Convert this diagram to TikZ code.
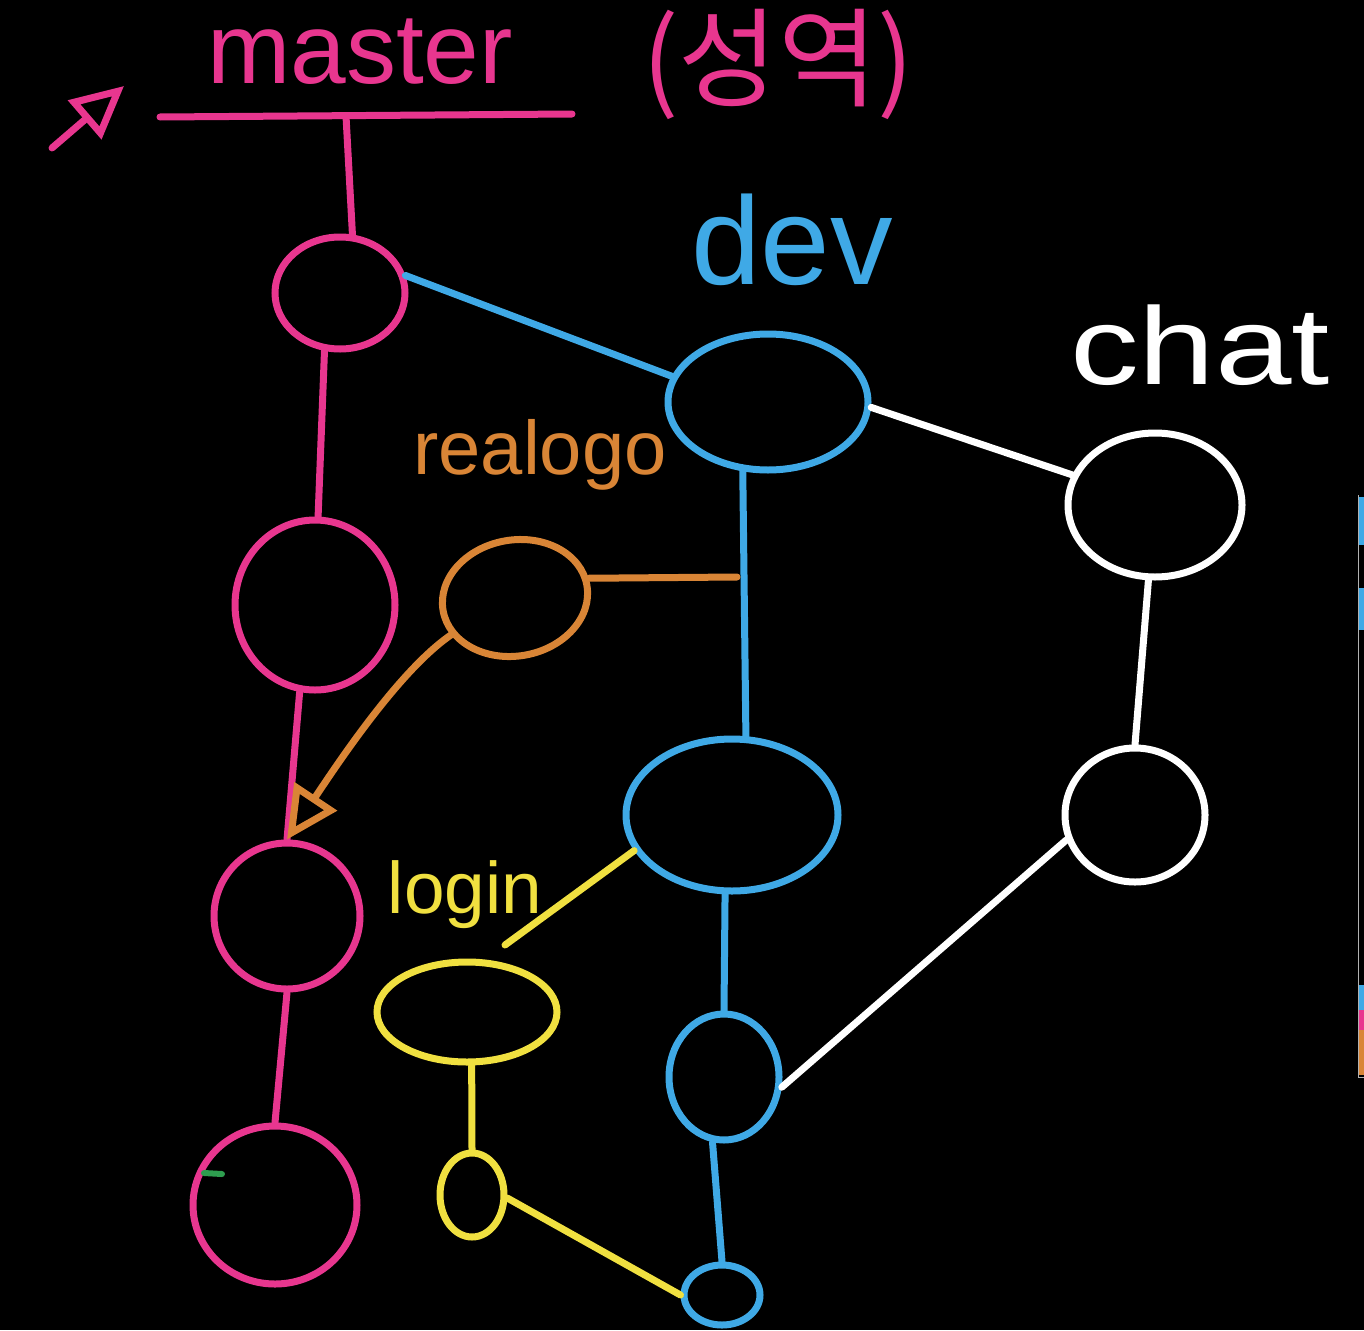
\documentclass[tikz,border=0pt]{standalone}
\usepackage{fontspec}
\setmainfont{Liberation Sans}
\newfontfamily\krfont{Noto Sans CJK KR}
\usetikzlibrary{shapes.geometric,arrows.meta}
\definecolor{pinkc}{HTML}{E8368F}
\definecolor{bluec}{HTML}{3FA9E6}
\definecolor{orangec}{HTML}{D98536}
\definecolor{yellowc}{HTML}{F0E040}
\definecolor{greenc}{HTML}{2E9E4F}
\tikzset{
  commit/.style={ellipse, draw, line width=7pt, inner sep=0pt},
  edge/.style={line width=7pt, line cap=round},
  lbl/.style={inner sep=0pt},
  opentip/.style={-{Triangle[open, length=52pt, width=50pt, line width=7pt]}},
}
\begin{document}
\begin{tikzpicture}[x=1pt,y=-1pt]
\useasboundingbox (0,0) rectangle (1364,1330);
\fill[black] (0,0) rectangle (1364,1330);

% labels
\node[lbl, text=pinkc, font=\fontsize{100}{100}\selectfont] (masterlbl) at (360,52) {master};
\node[lbl, text=pinkc, font=\krfont\fontsize{108}{108}\selectfont] (krlbl) at (778,64) {(성역)};
\node[lbl, text=bluec, font=\fontsize{125}{125}\selectfont] (devlbl) at (792,240) {dev};
\node[lbl, text=white, font=\fontsize{110}{110}\selectfont, xscale=1.25] (chatlbl) at (1200,345) {chat};
\node[lbl, text=orangec, font=\fontsize{76}{76}\selectfont] (realogolbl) at (540,455) {realogo};
\node[lbl, text=yellowc, font=\fontsize{73}{73}\selectfont] (loginlbl) at (465,895) {login};

% pink top arrow and underline
\coordinate (pa1) at (52,148);
\coordinate (pa2) at (124,86);
\draw[edge, pinkc, opentip] (pa1) -- (pa2);
\coordinate (ul1) at (160,117);
\coordinate (ul2) at (572,114);
\coordinate (ulm) at (346,116);
\draw[edge, pinkc] (ul1) -- (ul2);

% master commits
\node[commit, pinkc, minimum width=130pt, minimum height=112pt] (m1) at (340,293) {};
\node[commit, pinkc, minimum width=160pt, minimum height=170pt] (m2) at (315,605) {};
\node[commit, pinkc, minimum width=146pt, minimum height=146pt] (m3) at (287,916) {};
\node[commit, pinkc, minimum width=164pt, minimum height=158pt] (m4) at (275,1205) {};

% dev commits
\node[commit, bluec, minimum width=200pt, minimum height=136pt] (d1) at (768,402) {};
\node[commit, bluec, minimum width=212pt, minimum height=152pt] (d2) at (732,815) {};
\node[commit, bluec, minimum width=110pt, minimum height=126pt] (d3) at (724,1077) {};
\node[commit, bluec, minimum width=76pt, minimum height=60pt] (d4) at (722,1295) {};

% chat commits
\node[commit, white, minimum width=174pt, minimum height=144pt] (c1) at (1155,505) {};
\node[commit, white, minimum width=140pt, minimum height=134pt] (c2) at (1135,815) {};

% realogo commit
\node[commit, orangec, minimum width=146pt, minimum height=116pt, rotate=10] (r1) at (515,598) {};

% login commits
\node[commit, yellowc, minimum width=180pt, minimum height=100pt] (l1) at (467,1012) {};
\node[commit, yellowc, minimum width=64pt, minimum height=84pt] (l2) at (472,1195) {};

% master edges
\draw[edge, pinkc] (ulm) -- (m1.78);
\draw[edge, pinkc] (m1.-105) -- (m2.88);
\draw[edge, pinkc] (m2.-100) -- (m3.north);
\draw[edge, pinkc] (m3.south) -- (m4.north);

% dev edges
\draw[edge, bluec] (m1.15) -- (d1.165);
\draw[edge, bluec] (d1.-110) -- (d2.80);
\draw[edge, bluec] (d2.-95) -- (d3.north);
\draw[edge, bluec] (d3.-100) -- (d4.north);

% chat edges
\draw[edge, white] (d1.-3) -- (c1.160);
\draw[edge, white] (c1.-95) -- (c2.north);
\draw[edge, white] (c2.200) -- (d3.-10);

% realogo edges
\coordinate (rj) at (737,577);
\draw[edge, orangec] (r1.5) -- (rj);
\draw[edge, orangec, opentip] (r1.200) .. controls (400,670) and (340,760) .. (m3.north);

% login edges
\coordinate (lj) at (505,945);
\draw[edge, yellowc] (d2.200) -- (lj);
\draw[edge, yellowc] (l1.-85) -- (l2.north);
\draw[edge, yellowc] (l2.-5) -- (d4.180);

% small green mark
\coordinate (g1) at (204,1173);
\coordinate (g2) at (222,1174);
\draw[line width=6pt, greenc, line cap=round] (g1) -- (g2);

% right edge panel fragments
\fill[bluec] (1359,497) rectangle (1364,545);
\fill[bluec] (1359,588) rectangle (1364,630);
\fill[bluec] (1359,985) rectangle (1364,1010);
\fill[pinkc] (1359,1010) rectangle (1364,1030);
\fill[orangec] (1359,1030) rectangle (1364,1075);
\draw[gray!60, line width=1pt] (1358,495) -- (1358,1077) -- (1364,1077);
\end{tikzpicture}
\end{document}
